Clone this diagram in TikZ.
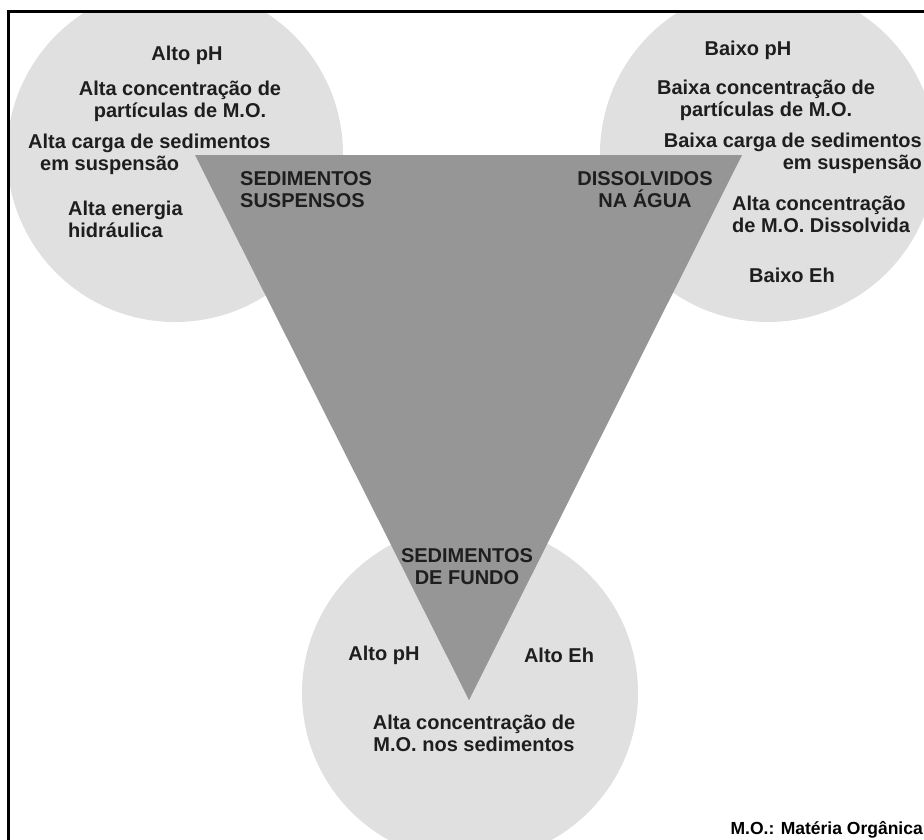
\documentclass[tikz,border=0pt]{standalone}
\usepackage{fontspec}
\setmainfont{Liberation Sans}
\begin{document}
\begin{tikzpicture}[x=1pt,y=-1pt,
  labeltext/.style={font=\fontsize{20}{22}\selectfont\bfseries, inner sep=0pt, text=r30g30b30},
  notetext/.style={font=\fontsize{17.5}{20}\selectfont\bfseries, inner sep=0pt, text=black}]
                            \useasboundingbox (0.0,0.0) rectangle (924.0,839.0);
                            % Changing colours
                            \definecolor{r224g224b224}{rgb}{0.878,0.878,0.878}%
                            \definecolor{r150g150b150}{rgb}{0.588,0.588,0.588}%
                            \definecolor{r30g30b30}{rgb}{0.118,0.118,0.118}%

                            \begin{scope}
                            \clip (8.0,11.0) rectangle (940.0,850.0);
                            % Drawing circle of suspended sediments
                            \fill [r224g224b224] (175.0,154.0) circle (168.0);%
                            % Drawing circle of dissolved matter
                            \fill [r224g224b224] (768.0,154.0) circle (168.0);%
                            % Drawing circle of bottom sediments
                            \fill [r224g224b224] (470.0,693.0) circle (168.0);%
                            \end{scope}

                            % Drawing triangle S D F
                            \coordinate (S) at (195.0,155.0);
                            \coordinate (D) at (742.0,155.0);
                            \coordinate (F) at (469.0,700.0);
                            \fill [r150g150b150] (S) -- (D) -- (F) -- cycle;%

                            % Marking texts of left circle
                            \draw (187.0,55.0) node [labeltext] (lphA) {Alto pH};%
                            \draw (180.0,101.0) node [labeltext, align=center] (lconc) {Alta concentração de\\partículas de M.O.};%
                            \draw (28.0,154.0) node [labeltext, anchor=west, align=left] (lcarga) {Alta carga de sedimentos\\\hspace*{12pt}em suspensão};%
                            \draw (68.0,219.0) node [labeltext, anchor=west, align=left] (lenerg) {Alta energia\\hidráulica};%

                            % Marking texts of triangle
                            \draw (240.0,190.0) node [labeltext, anchor=west, align=left] (tsusp) {SEDIMENTOS\\SUSPENSOS};%
                            \draw (645.0,190.0) node [labeltext, align=center] (tdiss) {DISSOLVIDOS\\NA ÁGUA};%
                            \draw (467.0,567.0) node [labeltext, align=center] (tfund) {SEDIMENTOS\\DE FUNDO};%

                            % Marking texts of right circle
                            \draw (748.0,50.0) node [labeltext] (rphA) {Baixo pH};%
                            \draw (766.0,100.0) node [labeltext, align=center] (rconc) {Baixa concentração de\\partículas de M.O.};%
                            \draw (922.0,153.0) node [labeltext, anchor=east, align=right] (rcarga) {Baixa carga de sedimentos\\em suspensão};%
                            \draw (732.0,214.0) node [labeltext, anchor=west, align=left] (rdiss) {Alta concentração\\de M.O. Dissolvida};%
                            \draw (792.0,275.0) node [labeltext] (rEh) {Baixo Eh};%

                            % Marking texts of bottom circle
                            \draw (384.0,655.0) node [labeltext] (bph) {Alto pH};%
                            \draw (559.0,655.0) node [labeltext] (bEh) {Alto Eh};%
                            \draw (474.0,733.0) node [labeltext, align=center] (bconc) {Alta concentração de\\M.O. nos sedimentos};%

                            % Marking note
                            \draw (923.0,830.0) node [notetext, anchor=east] (note) {M.O.: Matéria Orgânica};%

                            % Drawing frame
                            \draw [line width=3.0] (8.0,11.0) rectangle (940.0,850.0);%
                        \end{tikzpicture}
\end{document}
